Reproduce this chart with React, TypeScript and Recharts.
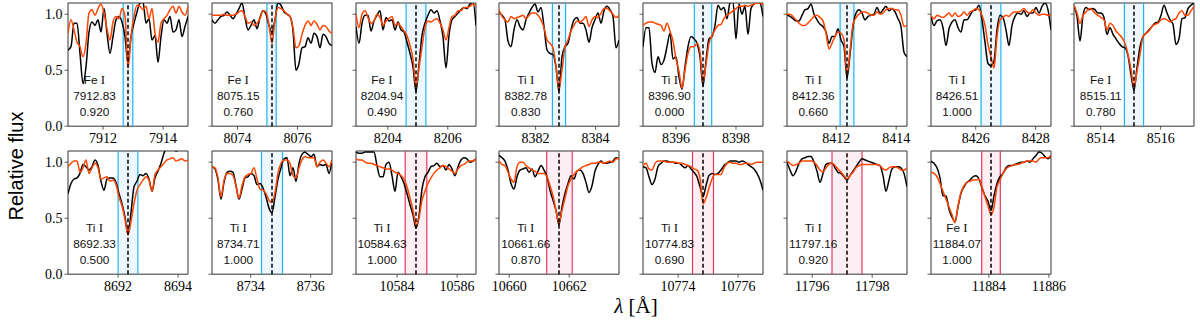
import React from 'react';
import { LineChart, Line, XAxis, YAxis, ReferenceLine, ReferenceArea } from 'recharts';

// wavelength offsets from the line centre (Å), shared by every panel
const OFFSETS = [
  -2.0, -1.9, -1.8, -1.7, -1.6, -1.5, -1.4, -1.3, -1.2, -1.1, -1.0, -0.9, -0.8, -0.7,
  -0.6, -0.5, -0.4, -0.3, -0.2, -0.1, 0.0, 0.1, 0.2, 0.3, 0.4, 0.5, 0.6, 0.7, 0.8, 0.9,
  1.0, 1.1, 1.2, 1.3, 1.4, 1.5, 1.6, 1.7, 1.8, 1.9, 2.0,
];

const LINE_CENTERS = [
  7912.83, 8075.15, 8204.94, 8382.78, 8396.9, 8412.36, 8426.51, 8515.11,
  8692.33, 8734.71, 10584.63, 10661.66, 10774.83, 11797.16, 11884.07,
];
const SPECIES = ['Fe', 'Fe', 'Fe', 'Ti', 'Ti', 'Ti', 'Ti', 'Fe', 'Ti', 'Ti', 'Ti', 'Ti', 'Ti', 'Ti', 'Fe'];
const WEIGHTS = ['0.920', '0.760', '0.490', '0.830', '0.000', '0.660', '1.000', '0.780', '0.500', '1.000', '1.000', '0.870', '0.690', '0.920', '1.000'];
const WINDOW_LO = [-0.16, -0.17, -0.33, -0.22, -0.29, -0.23, -0.33, -0.32, -0.33, -0.35, -0.36, -0.41, -0.35, -0.5, -0.31];
const WINDOW_HI = [0.16, 0.14, 0.33, 0.22, 0.29, 0.23, 0.33, 0.32, 0.33, 0.35, 0.36, 0.44, 0.35, 0.5, 0.31];
const WINDOW_KIND = ['b', 'b', 'b', 'b', 'b', 'b', 'b', 'b', 'b', 'b', 'r', 'r', 'r', 'r', 'r'];
const X_TICKS = [
  [7912, 7914], [8074, 8076], [8204, 8206], [8382, 8384], [8396, 8398], [8412, 8414], [8426, 8428], [8514, 8516],
  [8692, 8694], [8734, 8736], [10584, 10586], [10660, 10662], [10774, 10776], [11796, 11798], [11884, 11886],
];
const Y_TICKS = [0, 0.5, 1.0];

// observed (black) and model (orange) relative flux
const obs7912 = [0.68,0.71,0.92,0.92,0.65,0.38,0.53,0.84,0.93,0.90,0.95,0.84,1.05,0.83,0.65,0.80,0.95,0.98,0.93,0.80,0.56,0.80,0.92,1.02,1.10,1.11,0.92,0.96,0.77,0.81,0.57,0.80,0.95,0.92,0.98,0.84,0.86,0.95,0.80,0.89,0.98];
const mod7912 = [0.83,0.95,0.86,0.75,0.71,0.62,0.74,1.01,1.04,0.99,1.05,1.09,1.01,0.87,0.77,0.93,0.98,0.96,1.05,0.98,0.52,0.80,0.98,1.08,1.07,1.04,1.07,0.96,1.05,0.83,0.75,0.92,0.96,0.99,1.04,1.07,1.01,1.07,1.02,0.99,1.07];
const obs8075 = [0.95,0.92,0.95,0.98,0.99,1.02,0.99,0.96,1.00,1.05,1.10,0.97,0.86,0.90,0.95,0.87,0.97,1.03,1.00,0.90,0.84,0.95,1.10,1.08,1.02,1.00,0.98,0.85,0.50,0.56,0.70,0.71,0.79,0.74,0.83,0.80,0.70,0.82,0.80,0.74,0.72];
const mod8075 = [0.99,0.99,0.99,0.99,1.00,0.99,0.99,0.99,1.00,1.02,1.03,0.98,0.92,0.93,0.90,0.92,0.96,1.03,1.02,0.90,0.74,0.95,1.06,1.05,1.03,1.00,0.98,0.88,0.70,0.72,0.82,0.90,0.94,0.90,0.94,0.91,0.86,0.90,0.89,0.85,0.83];
const obs8204 = [0.89,0.74,0.92,0.99,0.99,0.85,0.94,0.99,1.03,0.86,0.97,0.94,0.95,0.86,0.93,0.86,0.84,0.75,0.65,0.53,0.31,0.55,0.81,0.92,0.99,1.04,1.01,1.03,0.94,0.80,0.52,0.81,0.95,0.98,1.01,1.04,1.06,1.05,1.09,1.11,0.90];
const mod8204 = [1.00,0.88,1.00,1.03,0.97,0.92,0.94,1.00,0.97,0.90,0.94,0.96,0.98,0.90,0.92,0.89,0.85,0.81,0.72,0.60,0.35,0.52,0.71,0.88,0.94,0.93,0.95,0.96,0.92,0.86,0.77,0.88,0.98,0.99,1.03,1.03,1.06,1.06,1.07,1.09,1.07];
const obs8382 = [1.02,0.99,0.95,0.76,0.71,0.86,0.95,0.89,0.86,0.95,1.01,1.06,1.09,1.02,1.06,0.89,0.68,0.65,0.64,0.53,0.31,0.62,0.71,0.74,0.86,0.95,0.97,0.92,0.92,0.86,0.75,0.88,0.95,1.01,0.92,1.03,1.07,1.04,0.98,0.70,0.77];
const mod8382 = [1.04,0.98,0.95,0.93,0.98,0.96,0.97,0.98,0.99,0.96,0.99,1.01,1.01,0.99,0.95,0.88,0.77,0.74,0.70,0.53,0.34,0.50,0.71,0.77,0.85,0.90,0.94,0.93,0.95,0.98,0.89,0.95,0.98,0.97,1.01,1.05,1.05,1.03,1.00,0.97,0.99];
const obs8396 = [0.71,0.88,0.88,0.56,0.48,0.62,0.55,0.59,0.71,0.83,0.60,0.62,0.44,0.33,0.53,0.71,0.80,0.78,0.74,0.62,0.36,0.58,0.78,0.80,0.90,1.08,1.04,1.06,0.96,1.10,1.11,0.78,1.09,1.00,1.07,0.82,1.05,1.09,1.11,1.10,0.98];
const mod8396 = [0.90,0.92,0.93,0.93,0.92,0.91,0.90,0.85,0.92,0.85,0.76,0.60,0.49,0.34,0.50,0.65,0.71,0.71,0.74,0.66,0.40,0.55,0.74,0.81,0.86,0.90,0.91,0.96,0.99,1.01,1.03,1.05,1.07,1.07,1.08,1.07,1.08,1.09,1.10,1.10,1.08];
const obs8412 = [0.99,0.98,0.96,0.94,0.94,0.99,1.04,1.05,1.09,1.00,0.95,0.91,0.89,0.84,0.74,0.80,0.80,0.87,0.77,0.71,0.43,0.64,0.89,1.01,1.04,1.01,0.95,0.98,0.99,1.00,1.06,1.01,1.04,1.07,1.03,1.05,1.02,0.96,0.89,0.66,0.62];
const mod8412 = [1.00,1.00,0.98,0.95,0.92,0.90,0.90,0.92,0.95,0.98,0.99,0.97,0.94,0.83,0.69,0.74,0.80,0.84,0.83,0.77,0.47,0.67,0.91,0.97,1.00,1.02,1.02,1.01,0.99,0.99,1.02,1.00,1.01,1.04,1.05,1.05,1.04,1.04,0.99,0.89,0.90];
const obs8426 = [0.98,0.90,0.94,0.95,0.88,0.72,0.87,0.93,0.95,0.88,0.84,0.95,0.95,0.99,1.03,1.04,1.08,0.95,0.75,0.56,0.54,0.58,0.86,0.99,0.97,0.86,0.72,0.90,0.98,1.01,1.00,1.03,0.98,1.01,1.01,1.06,1.01,1.07,1.10,1.04,0.86];
const mod8426 = [0.99,0.96,0.99,0.98,0.97,0.99,1.01,0.98,1.01,0.98,0.99,1.02,0.99,1.02,1.03,1.05,1.04,0.99,0.90,0.73,0.62,0.52,0.80,0.95,0.97,0.99,0.98,1.01,1.02,1.02,1.03,1.05,1.02,1.01,1.04,1.01,0.99,1.00,1.00,0.99,0.99];
const obs8515 = [1.07,0.98,0.76,0.99,1.06,1.04,1.05,1.04,1.01,1.01,0.97,0.82,0.88,0.82,0.78,0.74,0.71,0.70,0.63,0.46,0.32,0.52,0.71,0.80,0.83,0.86,0.89,0.92,0.93,0.99,1.08,1.01,0.95,0.91,0.73,0.78,0.96,0.97,1.05,1.08,1.10];
const mod8515 = [1.08,1.01,0.92,0.99,1.02,1.05,1.04,1.01,0.99,0.97,0.95,0.86,0.92,0.90,0.85,0.82,0.79,0.74,0.64,0.51,0.35,0.49,0.64,0.80,0.83,0.85,0.89,0.91,0.92,0.95,0.96,0.95,0.93,0.95,0.96,1.01,1.03,0.99,0.99,1.03,1.07];
const obs8692 = [0.72,0.81,0.85,0.86,0.90,0.98,0.96,0.93,0.96,1.02,0.97,0.83,0.75,0.85,0.86,0.86,0.82,0.72,0.63,0.51,0.36,0.55,0.78,0.83,0.89,0.88,0.90,0.85,0.74,0.86,0.92,0.99,1.08,1.13,1.13,1.12,1.10,1.11,1.13,1.13,1.13];
const mod8692 = [0.96,0.99,1.01,1.01,0.91,0.95,1.02,0.90,0.95,0.99,0.95,0.85,0.86,0.87,0.83,0.84,0.80,0.69,0.61,0.49,0.35,0.47,0.63,0.75,0.80,0.84,0.87,0.84,0.74,0.89,0.93,0.96,0.99,1.02,1.03,1.04,1.01,1.02,1.03,1.01,1.02];
const obs8734 = [0.96,0.94,0.84,0.67,0.82,0.91,0.92,0.91,0.79,0.67,0.76,0.86,0.87,0.90,0.88,0.80,0.81,0.77,0.69,0.59,0.55,0.69,0.85,0.95,1.03,1.04,0.88,0.95,0.83,0.99,1.07,1.09,1.07,1.05,1.07,0.96,0.98,0.97,0.98,0.90,1.02];
const mod8734 = [0.96,0.95,0.86,0.69,0.84,0.90,0.90,0.88,0.79,0.68,0.79,0.87,0.89,0.90,0.95,0.85,0.76,0.75,0.72,0.66,0.64,0.73,0.90,0.99,1.02,1.02,0.99,0.88,0.86,0.95,1.02,1.05,1.04,1.04,1.04,0.96,1.00,1.02,0.99,0.96,1.02];
const obs10584 = [1.09,1.08,1.08,1.09,1.09,1.09,1.09,0.97,0.87,0.87,0.98,1.00,0.88,0.74,0.91,0.87,0.81,0.72,0.62,0.53,0.41,0.52,0.76,0.87,0.91,0.96,0.97,0.99,0.96,0.97,0.93,0.98,0.94,0.88,0.96,1.02,1.04,1.03,1.00,1.01,1.03];
const mod10584 = [1.03,1.02,1.02,1.00,0.99,0.99,0.98,0.97,0.96,0.95,0.94,0.94,0.93,0.91,0.90,0.88,0.85,0.78,0.68,0.57,0.44,0.50,0.66,0.74,0.81,0.86,0.90,0.93,0.95,0.97,0.96,0.94,0.92,0.90,0.94,0.97,0.98,1.00,1.01,1.01,1.03];
const obs10661 = [1.06,1.04,1.01,0.93,0.81,0.76,0.87,0.93,0.94,0.95,0.91,0.94,0.87,0.92,0.97,0.93,0.87,0.75,0.66,0.57,0.44,0.60,0.72,0.81,0.88,0.85,0.92,0.93,0.90,0.82,0.73,0.79,0.92,0.98,1.01,0.99,0.99,1.00,1.01,1.04,1.03];
const mod10661 = [1.01,0.98,0.97,0.91,0.85,0.82,0.96,1.00,1.00,0.97,0.95,0.93,0.92,0.90,0.90,0.90,0.87,0.79,0.70,0.57,0.46,0.57,0.68,0.79,0.85,0.89,0.92,0.94,0.96,0.97,0.98,0.99,0.99,1.00,1.00,0.99,1.00,1.01,1.00,1.03,1.03];
const obs10774 = [0.96,0.95,0.87,0.80,0.85,0.96,0.99,1.01,1.01,1.00,1.00,0.99,0.99,0.97,0.95,0.97,0.94,0.91,0.87,0.78,0.69,0.79,0.88,0.90,0.89,0.90,0.93,0.97,0.99,1.01,1.01,1.01,1.00,1.01,1.00,0.98,0.96,0.94,0.90,0.84,0.75];
const mod10774 = [0.97,0.99,0.94,0.93,0.99,1.01,1.01,1.01,1.00,1.00,1.00,1.00,0.99,0.99,0.98,0.97,0.96,0.94,0.93,0.86,0.63,0.68,0.77,0.85,0.89,0.89,0.89,0.95,0.99,1.00,0.99,0.99,0.98,0.98,0.99,0.99,0.98,0.99,1.00,1.00,1.00];
const obs11797 = [1.00,0.93,0.88,0.92,0.99,1.03,1.04,1.05,1.05,1.00,0.92,0.82,0.90,0.98,0.99,0.99,0.95,0.91,0.90,0.87,0.84,0.88,0.92,0.96,1.00,1.03,1.02,1.01,1.00,0.99,0.98,0.97,0.88,0.74,0.84,0.94,0.96,0.96,0.95,0.90,0.78];
const mod11797 = [1.01,0.99,0.97,0.98,0.99,1.01,1.01,1.01,1.01,1.00,0.97,0.93,0.91,0.95,0.98,0.99,0.97,0.94,0.91,0.88,0.85,0.88,0.91,0.95,0.97,0.98,0.98,0.98,0.98,0.98,0.98,0.97,0.94,0.93,0.95,0.96,0.96,0.95,0.93,0.93,0.95];
const obs11884 = [1.01,0.99,0.95,0.86,0.70,0.70,0.58,0.51,0.47,0.60,0.72,0.78,0.82,0.84,0.87,0.88,0.85,0.77,0.70,0.65,0.57,0.70,0.81,0.87,0.90,0.95,0.97,0.97,0.98,0.99,1.00,1.00,1.01,1.00,1.03,1.06,1.09,1.08,1.05,1.03,1.06];
const mod11884 = [0.91,0.90,0.87,0.81,0.74,0.67,0.60,0.53,0.46,0.61,0.73,0.79,0.82,0.83,0.84,0.84,0.85,0.78,0.69,0.61,0.53,0.60,0.78,0.84,0.90,0.94,0.96,0.97,0.98,0.98,0.99,1.00,1.01,1.01,1.01,1.00,1.03,1.04,1.04,1.04,1.06];

const OBSERVED = [obs7912, obs8075, obs8204, obs8382, obs8396, obs8412, obs8426, obs8515, obs8692, obs8734, obs10584, obs10661, obs10774, obs11797, obs11884];
const MODEL = [mod7912, mod8075, mod8204, mod8382, mod8396, mod8412, mod8426, mod8515, mod8692, mod8734, mod10584, mod10661, mod10774, mod11797, mod11884];

const COL_LEFTS = [68, 211.75, 355.5, 499.25, 643, 786.75, 930.5, 1074.25];
const ROW_TOPS = [2.8, 150.5];
const PLOT_W = 120;
const PLOT_H = 123.2;
const Y_W = 44;
const PAD_T = 6;
const PAD_R = 26;
const X_H = 28;

const SPINE = '#333333';
const COLORS = {
  b: { line: '#1db5f0', fill: '#eef7fd' },
  r: { line: '#e03a5f', fill: '#fdeff3' },
};
const SERIF = '"Liberation Serif", "DejaVu Serif", serif';
const SANS = '"Liberation Sans", Arial, sans-serif';

function Panel({ idx, left, top, yLabels }: { idx: number; left: number; top: number; yLabels: boolean }) {
  const c = LINE_CENTERS[idx];
  const data = OFFSETS.map((o, i) => ({
    wl: c + o,
    obs: OBSERVED[idx][i],
    mod: MODEL[idx][i],
  }));
  const win = COLORS[WINDOW_KIND[idx] as 'b' | 'r'];
  const lo = c - 2;
  const hi = c + 2;
  return (
    <>
      <div style={{ position: 'absolute', left: left - Y_W, top: top - PAD_T }}>
        <LineChart
          width={Y_W + PLOT_W + PAD_R}
          height={PAD_T + PLOT_H + X_H}
          data={data}
          margin={{ top: PAD_T, right: PAD_R, bottom: 0, left: 0 }}
        >
          <XAxis
            dataKey="wl"
            type="number"
            domain={[lo, hi]}
            allowDataOverflow
            ticks={X_TICKS[idx]}
            height={X_H}
            axisLine={false}
            tickSize={3.5}
            tickMargin={3}
            tickLine={{ stroke: SPINE, strokeWidth: 0.8 }}
            tick={{ fontSize: 14, fill: '#000', fontFamily: SERIF }}
            interval={0}
          />
          <YAxis
            type="number"
            domain={[0, 1.1]}
            allowDataOverflow
            ticks={Y_TICKS}
            width={Y_W}
            axisLine={false}
            tickSize={3.5}
            tickMargin={2}
            tickLine={{ stroke: SPINE, strokeWidth: 0.8 }}
            tick={{ fontSize: 14, fill: '#000', fontFamily: SERIF }}
            tickFormatter={(v: number) => (yLabels ? v.toFixed(1) : '')}
            interval={0}
          />
          <ReferenceArea
            x1={c + WINDOW_LO[idx]}
            x2={c + WINDOW_HI[idx]}
            y1={0}
            y2={1.1}
            fill={win.fill}
            fillOpacity={1}
            stroke="none"
          />
          <ReferenceLine x={c + WINDOW_LO[idx]} stroke={win.line} strokeWidth={1.2} />
          <ReferenceLine x={c + WINDOW_HI[idx]} stroke={win.line} strokeWidth={1.2} />
          <Line
            dataKey="obs"
            type="monotone"
            stroke="#000"
            strokeWidth={1.5}
            dot={false}
            isAnimationActive={false}
          />
          <Line
            dataKey="mod"
            type="monotone"
            stroke="#ff4500"
            strokeWidth={1.5}
            dot={false}
            isAnimationActive={false}
          />
          <ReferenceLine x={c} stroke="#000" strokeWidth={1.5} strokeDasharray="4 2.5" />
          <ReferenceArea x1={lo} x2={hi} y1={0} y2={1.1} fill="none" stroke={SPINE} strokeWidth={1} />
        </LineChart>
      </div>
      <div
        style={{
          position: 'absolute',
          left: left + 26.5 - 40,
          top: top + 69,
          width: 80,
          textAlign: 'center',
          fontFamily: SANS,
          fontSize: 11.8,
          lineHeight: '16.2px',
          color: '#111',
        }}
      >
        <div>
          {SPECIES[idx]} <span style={{ fontFamily: SERIF, fontSize: 13 }}>I</span>
        </div>
        <div>{LINE_CENTERS[idx].toFixed(2)}</div>
        <div>{WEIGHTS[idx]}</div>
      </div>
    </>
  );
}

export default function App() {
  return (
    <div
      style={{
        position: 'absolute',
        left: 0,
        top: 0,
        width: 1200,
        height: 326,
        background: '#fff',
        overflow: 'hidden',
      }}
    >
      {LINE_CENTERS.map((_, i) => {
        const row = i < 8 ? 0 : 1;
        const col = row === 0 ? i : i - 8;
        return (
          <Panel key={i} idx={i} left={COL_LEFTS[col]} top={ROW_TOPS[row]} yLabels={col === 0} />
        );
      })}
      <div
        style={{
          position: 'absolute',
          left: 16,
          top: 166,
          transform: 'translate(-50%, -50%) rotate(-90deg)',
          whiteSpace: 'nowrap',
          fontFamily: SANS,
          fontSize: 20,
          color: '#000',
        }}
      >
        Relative flux
      </div>
      <div
        style={{
          position: 'absolute',
          left: 636,
          top: 306,
          transform: 'translate(-50%, -50%)',
          whiteSpace: 'nowrap',
          fontFamily: SERIF,
          fontSize: 21,
          color: '#000',
        }}
      >
        <i>λ</i> [Å]
      </div>
    </div>
  );
}
